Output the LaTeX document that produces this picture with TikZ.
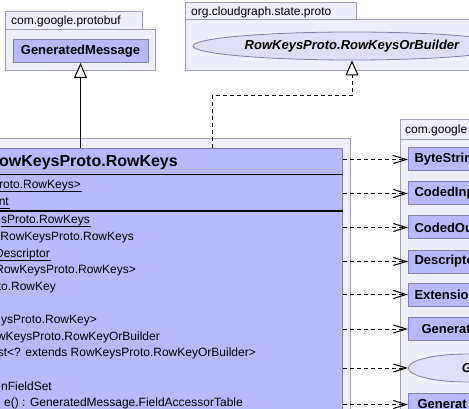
\documentclass[tikz,border=0pt]{standalone}
\usepackage{fontspec}
\setmainfont{Liberation Sans}
\usepackage{xcolor}
\usepackage{tikz}
\usetikzlibrary{
  arrows.meta,
  positioning,
  shapes.geometric
}
\definecolor{pkgfill}{RGB}{238,238,250}
\definecolor{pkgline}{RGB}{160,160,180}
\definecolor{clsfill}{RGB}{184,184,250}
\definecolor{clsline}{RGB}{130,130,170}
\definecolor{ifcfill}{RGB}{222,222,246}
\newcommand{\pkgfont}{\fontsize{12}{14}\selectfont}
\newcommand{\memfont}{\fontsize{12}{14}\selectfont}
\newcommand{\clsfont}{\bfseries\fontsize{13}{15}\selectfont}

\begin{document}
\begin{tikzpicture}[x=1pt, y=-1pt,
    pkg/.style={fill=pkgfill, draw=pkgline, line width=1pt},
    pkglabel/.style={anchor=west, inner sep=0pt, font=\pkgfont},
    cls/.style={rectangle, fill=clsfill, draw=clsline, line width=1pt, inner ysep=0pt, minimum height=23pt, font=\clsfont},
    ifc/.style={ellipse, fill=ifcfill, draw=clsline, line width=0.8pt, inner sep=0pt, minimum height=28pt, font=\clsfont\itshape},
    member/.style={anchor=base east, inner sep=0pt, font=\memfont},
    extends/.style={draw=black, line width=1pt, -{Triangle[length=15pt, width=13pt, fill=white]}},
    implements/.style={extends, dash pattern=on 4pt off 3pt},
    depends/.style={draw=black, line width=1pt, dash pattern=on 4pt off 3pt, -{Straight Barb[length=13pt, width=8pt]}}
  ]
    \useasboundingbox (0,0) rectangle (469,409);

    % Pacote: com.google.protobuf (esquerda)
    \filldraw[pkg] (5,12) rectangle (142,30);
    \filldraw[pkg] (5,30) rectangle (155,71);
    \node[pkglabel] (protobufTab) at (11,21) {com.google.protobuf};
    \node[cls, minimum width=135pt] (genMessage) at (80.5,51) {GeneratedMessage};

    % Pacote: org.cloudgraph.state.proto (interface)
    \filldraw[pkg] (185,3) rectangle (356,20);
    \filldraw[pkg] (185,20) rectangle (560,71);
    \node[pkglabel] (stateTab) at (191,12) {org.cloudgraph.state.proto};
    \node[ifc, minimum width=318pt] (rowKeysOrBuilder) at (352,46) {RowKeysProto.RowKeysOrBuilder};

    % Pacote da classe principal
    \filldraw[pkg] (-190,139) rectangle (350,560);
    \node[cls, anchor=north west, minimum width=518pt, minimum height=420pt] (rowKeys) at (-176,148) {};
    \node[anchor=base east, inner sep=0pt, font=\bfseries\fontsize{16}{18}\selectfont] (rowKeysTitle) at (178,167) {owKeysProto.RowKeys};
    \draw[line width=1pt] (rowKeys.west |- 0,175) -- (rowKeys.east |- 0,175);
    \draw[line width=2pt] (rowKeys.west |- 0,211) -- (rowKeys.east |- 0,211);

    % Membros (campos e metodos)
    \foreach \y/\xr/\txt/\ul [count=\i] in {
        189/81/{roto.RowKeys>}/1,
        206/9/{nt}/1,
        224/90/{sProto.RowKeys}/1,
        240.6/134/{RowKeysProto.RowKeys}/0,
        257.2/50/{Descriptor}/1,
        273.8/136/{RowKeysProto.RowKeys>}/0,
        290.4/56/{to.RowKey}/0,
        323.6/97/{ysProto.RowKey>}/0,
        340.2/160/{wKeysProto.RowKeyOrBuilder}/0,
        356.8/256/{st<? extends RowKeysProto.RowKeyOrBuilder>}/0,
        390/52/{nFieldSet}/0,
        406.6/243/{e() : GeneratedMessage.FieldAccessorTable}/0} {
      \node[member] (member\i) at (\xr,\y) {\txt};
      \ifnum\ul=1
        \draw[line width=1pt] ([yshift=-3pt]member\i.base west) -- ([yshift=-3pt, xshift=1pt]member\i.base east);
      \fi
    }

    % Pacote: com.google (direita)
    \filldraw[pkg] (400,120) rectangle (560,140);
    \filldraw[pkg] (400,140) rectangle (560,560);
    \node[pkglabel] (googleTab) at (405,130) {com.google};
    \node[cls, anchor=west, text width=110pt, align=left, inner xsep=6pt] (byteString) at (408,159.5) {ByteStrin};
    \node[cls, anchor=west, text width=110pt, align=left, inner xsep=6pt] (codedInput) at (408,193.5) {CodedInp};
    \node[cls, anchor=west, text width=110pt, align=left, inner xsep=6pt] (codedOutput) at (408,227.5) {CodedOu};
    \node[cls, anchor=west, text width=110pt, align=left, inner xsep=6pt] (descriptors) at (408,261.5) {Descripto};
    \node[cls, anchor=west, text width=110pt, align=left, inner xsep=6pt] (extensionReg) at (408,294.5) {Extensio};
    \node[cls, anchor=west, text width=100pt, align=left, inner xsep=13pt] (genMessageA) at (408,329) {Generat};
    \node[ifc, anchor=west, minimum width=117pt] (genBuilder) at (408,368) {G};
    \node[cls, anchor=west, text width=104pt, align=left, inner xsep=9pt] (genMessageB) at (408,404.5) {Generat};

    % Heranca e realizacao
    \draw[extends] (genMessage |- rowKeys.north) -- (genMessage.south);
    \coordinate (bend) at (212,96);
    \draw[implements] (rowKeys.north -| bend) -- (bend) -| (rowKeysOrBuilder.south);

    % Dependencias
    \foreach \n in {byteString, codedInput, codedOutput, descriptors, extensionReg, genMessageA, genBuilder, genMessageB}
      \draw[depends] (rowKeys.east |- \n.west) -- (\n.west);
  \end{tikzpicture}
\end{document}
